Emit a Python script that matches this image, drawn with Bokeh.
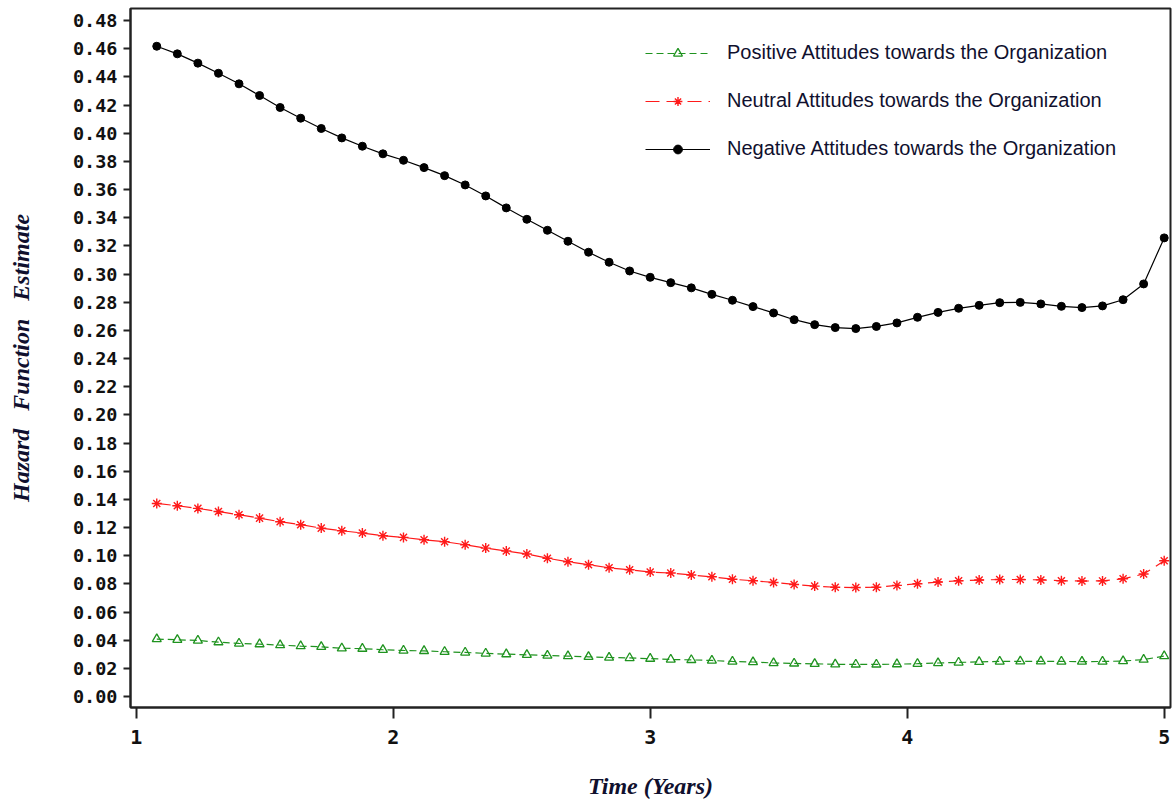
from bokeh.plotting import figure
from bokeh.models import (Range1d, FixedTicker, PrintfTickFormatter, Legend,
                          LegendItem)
from bokeh.embed import file_html
from bokeh.resources import INLINE

# Time points (years)
time = [1.08, 1.16, 1.24, 1.32, 1.40, 1.48, 1.56, 1.64, 1.72, 1.80,
        1.88, 1.96, 2.04, 2.12, 2.20, 2.28, 2.36, 2.44, 2.52, 2.60,
        2.68, 2.76, 2.84, 2.92, 3.00, 3.08, 3.16, 3.24, 3.32, 3.40,
        3.48, 3.56, 3.64, 3.72, 3.80, 3.88, 3.96, 4.04, 4.12, 4.20,
        4.28, 4.36, 4.44, 4.52, 4.60, 4.68, 4.76, 4.84, 4.92, 5.00]

# Hazard function estimates by attitude group
positive = [0.0408, 0.0403, 0.0398, 0.0386, 0.0377, 0.0372, 0.0365, 0.0358, 0.0353, 0.0343,
            0.0340, 0.0332, 0.0327, 0.0324, 0.0318, 0.0313, 0.0306, 0.0301, 0.0296, 0.0291,
            0.0287, 0.0282, 0.0277, 0.0274, 0.0269, 0.0263, 0.0260, 0.0256, 0.0249, 0.0245,
            0.0238, 0.0235, 0.0232, 0.0229, 0.0228, 0.0228, 0.0230, 0.0233, 0.0238, 0.0242,
            0.0246, 0.0249, 0.0250, 0.0250, 0.0249, 0.0248, 0.0249, 0.0252, 0.0262, 0.0287]

neutral = [0.1371, 0.1355, 0.1336, 0.1314, 0.1291, 0.1267, 0.1241, 0.1220, 0.1196, 0.1177,
           0.1161, 0.1142, 0.1130, 0.1113, 0.1099, 0.1078, 0.1054, 0.1033, 0.1012, 0.0982,
           0.0957, 0.0936, 0.0914, 0.0900, 0.0884, 0.0877, 0.0863, 0.0850, 0.0833, 0.0822,
           0.0810, 0.0796, 0.0784, 0.0776, 0.0774, 0.0776, 0.0789, 0.0801, 0.0813, 0.0822,
           0.0827, 0.0831, 0.0831, 0.0828, 0.0822, 0.0820, 0.0821, 0.0836, 0.0870, 0.0964]

negative = [0.4618, 0.4564, 0.4498, 0.4426, 0.4351, 0.4268, 0.4183, 0.4107, 0.4034, 0.3967,
            0.3908, 0.3854, 0.3808, 0.3756, 0.3699, 0.3633, 0.3555, 0.3470, 0.3389, 0.3311,
            0.3233, 0.3155, 0.3084, 0.3022, 0.2977, 0.2939, 0.2902, 0.2856, 0.2814, 0.2769,
            0.2724, 0.2676, 0.2641, 0.2620, 0.2613, 0.2628, 0.2653, 0.2693, 0.2728, 0.2757,
            0.2778, 0.2797, 0.2799, 0.2788, 0.2771, 0.2762, 0.2774, 0.2818, 0.2930, 0.3257]

series_labels = ["Positive Attitudes towards the Organization",
                 "Neutral Attitudes towards the Organization",
                 "Negative Attitudes towards the Organization"]

x_ticks = [1, 2, 3, 4, 5]
y_ticks = [0.00, 0.02, 0.04, 0.06, 0.08, 0.10, 0.12, 0.14, 0.16, 0.18, 0.20, 0.22,
           0.24, 0.26, 0.28, 0.30, 0.32, 0.34, 0.36, 0.38, 0.40, 0.42, 0.44, 0.46, 0.48]

GREEN = "#1f931f"
RED = "#ff1a1a"
BLACK = "#000000"
TITLE_COLOR = "#10102e"

p = figure(width=1172, height=802,
           x_range=Range1d(0.9778, 5.0245), y_range=Range1d(-0.0078, 0.4886),
           output_backend="svg", toolbar_location=None,
           min_border_left=130, min_border_right=2,
           min_border_top=8, min_border_bottom=95)

p.xgrid.visible = False
p.ygrid.visible = False
p.outline_line_color = "#222222"
p.outline_line_width = 2
p.background_fill_color = "white"
p.border_fill_color = "white"

# axes
for ax in (p.xaxis, p.yaxis):
    ax.axis_line_color = "#222222"
    ax.axis_line_width = 2
    ax.major_tick_line_color = "#222222"
    ax.major_tick_line_width = 2
    ax.major_tick_in = 0
    ax.minor_tick_in = 0
    ax.minor_tick_out = 0
    ax.major_label_text_font = "DejaVu Sans Mono"
    ax.major_label_text_font_style = "bold"
    ax.major_label_text_color = "#111111"
    ax.axis_label_text_font = "Liberation Serif"
    ax.axis_label_text_font_style = "bold italic"
    ax.axis_label_text_color = TITLE_COLOR
    ax.axis_label_text_font_size = "24px"

p.xaxis.ticker = FixedTicker(ticks=x_ticks)
p.xaxis.major_tick_out = 11
p.xaxis.major_label_standoff = 11
p.xaxis.major_label_text_font_size = "20px"
p.xaxis.axis_label = "Time (Years)"
p.xaxis.axis_label_standoff = 26

p.yaxis.ticker = FixedTicker(ticks=y_ticks)
p.yaxis.formatter = PrintfTickFormatter(format="%.2f")
p.yaxis.major_tick_out = 7
p.yaxis.major_label_standoff = 6
p.yaxis.major_label_text_font_size = "18.5px"
# wide word gaps kept with non-breaking spaces
p.yaxis.axis_label = "Hazard \u00a0 Function \u00a0 Estimate"
p.yaxis.axis_label_standoff = 36

# series
g_line = p.line(time, positive, line_color=GREEN, line_width=1.2, line_dash="7 4")
g_pts = p.scatter(time, positive, marker="triangle", size=9, fill_color=None,
                  line_color=GREEN, line_width=1.3)

r_line = p.line(time, neutral, line_color=RED, line_width=1.2, line_dash="14 7")
r_pts = p.scatter(time, neutral, marker="asterisk", size=10, line_color=RED,
                  line_width=1.4)

k_line = p.line(time, negative, line_color=BLACK, line_width=1.2)
k_pts = p.scatter(time, negative, marker="circle", size=8, fill_color=BLACK,
                  line_color=BLACK)

legend = Legend(items=[LegendItem(label=series_labels[0], renderers=[g_line, g_pts]),
                       LegendItem(label=series_labels[1], renderers=[r_line, r_pts]),
                       LegendItem(label=series_labels[2], renderers=[k_line, k_pts])],
                location=(515, 547), margin=0, padding=0,
                border_line_color=None, background_fill_alpha=0,
                glyph_width=65, glyph_height=22, label_height=22,
                spacing=25, label_standoff=17,
                label_text_font="Liberation Sans", label_text_font_size="20px",
                label_text_color=TITLE_COLOR)
p.add_layout(legend)

open("out.html", "w").write(file_html(p, INLINE))
